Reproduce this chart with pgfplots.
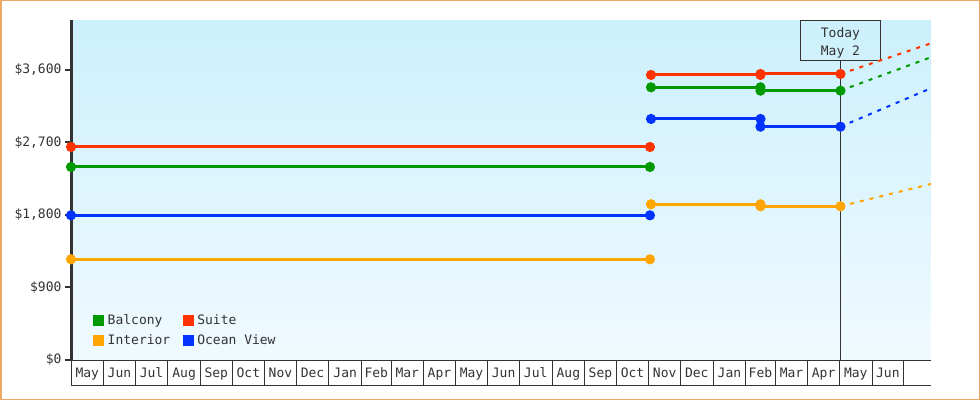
\documentclass[border=0pt]{standalone}
\usepackage{fontspec}
\usepackage{pgfplots}
\pgfplotsset{compat=1.18}
\setmainfont{DejaVu Sans Mono}

\definecolor{cGreen}{RGB}{0,153,0}
\definecolor{cRed}{RGB}{255,51,0}
\definecolor{cOrange}{RGB}{255,165,0}
\definecolor{cBlue}{RGB}{0,51,255}
\definecolor{bgTop}{RGB}{204,240,252}
\definecolor{bgBot}{RGB}{240,250,255}
\definecolor{frame}{RGB}{235,170,100}
\definecolor{axisgray}{RGB}{51,51,51}

\begin{document}
\begin{tikzpicture}[x=1pt,y=1pt]
\useasboundingbox (0,0) rectangle (980,400);
\draw[line width=1.5pt, frame] (0.75,0.75) rectangle (979.25,399.25);
\begin{axis}[
    at={(71pt,40pt)}, anchor=south west,
    width=860pt, height=340pt, scale only axis,
    xmin=0, xmax=817, ymin=0, ymax=4220,
    clip=false,
    axis x line*=bottom, axis y line*=left,
    x axis line style={-, line width=1pt, color=axisgray},
    y axis line style={-, line width=3pt, color=axisgray},
    axis background/.style={top color=bgTop, bottom color=bgBot},
    tick align=outside,
    major tick length=6pt,
    % month cells: ticks on month starts (day 0 = May 1)
    xtick={0,31,61,92,123,153,184,214,245,276,304,335,365,396,426,457,488,518,549,579,610,641,669,700,730,761,791},
    xticklabels={May,Jun,Jul,Aug,Sep,Oct,Nov,Dec,Jan,Feb,Mar,Apr,May,Jun,Jul,Aug,Sep,Oct,Nov,Dec,Jan,Feb,Mar,Apr,May,Jun},
    x tick label as interval,
    x tick style={line width=1pt, color=axisgray, /pgfplots/major tick length=25pt},
    xticklabel style={anchor=base, yshift=-11pt},
    ytick={0,900,1800,2700,3600},
    yticklabels={{\$0},{\$900},{\$1,800},{\$2,700},{\$3,600}},
    y tick style={line width=2pt, color=axisgray},
    ticklabel style={font=\fontsize{13}{13}\selectfont, text=axisgray},
    legend columns=2,
    legend cell align=left,
    legend style={at={(rel axis cs:0,0)}, anchor=south west, xshift=19pt, yshift=10pt,
        draw=none, fill=none, font=\fontsize{13}{13}\selectfont, text=axisgray,
        /tikz/every odd column/.append style={column sep=2pt},
        /tikz/every even column/.append style={column sep=11pt},
        row sep=6pt, nodes={inner sep=1.5pt}},
    legend image code/.code={\fill[#1] (0pt,-5.5pt) rectangle (11pt,5.5pt);},
]
\addlegendimage{fill=cGreen, draw=none}
\addlegendentry{Balcony}
\addlegendimage{fill=cRed, draw=none}
\addlegendentry{Suite}
\addlegendimage{fill=cOrange, draw=none}
\addlegendentry{Interior}
\addlegendimage{fill=cBlue, draw=none}
\addlegendentry{Ocean View}

% today marker
\node[draw=axisgray, line width=1pt, minimum width=80pt, minimum height=40pt,
      inner sep=0pt, anchor=north] (today) at (axis cs:731,4220) {};
\node[align=center, inner sep=0pt, text=axisgray, font=\fontsize{13}{18}\selectfont,
      yshift=-2pt] at (today.center) {Today\\May 2};
\draw[axisgray, line width=1pt] (today.south) -- (axis cs:731,0);

% projections
\addplot[forget plot, cRed, line width=2pt, dash pattern=on 4pt off 6pt] coordinates {(731,3550) (817,3931)};
\addplot[forget plot, cGreen, line width=2pt, dash pattern=on 4pt off 6pt] coordinates {(731,3343) (817,3758)};
\addplot[forget plot, cBlue, line width=2pt, dash pattern=on 4pt off 6pt] coordinates {(731,2896) (817,3373)};
\addplot[forget plot, cOrange, line width=2pt, dash pattern=on 4pt off 6pt] coordinates {(731,1908) (817,2185)};

% prices
\pgfplotsset{every axis plot/.append style={line width=3pt, mark=*, mark size=3.5pt, unbounded coords=jump}}
\addplot[forget plot, cOrange] coordinates {(0,1250) (550,1250) (551,nan) (551,1933) (655,1933) (655,nan) (655,1908) (731,1908)};
\addplot[forget plot, cBlue] coordinates {(0,1796) (550,1796) (551,nan) (551,2992) (655,2992) (655,nan) (655,2896) (731,2896)};
\addplot[forget plot, cGreen] coordinates {(0,2396) (550,2396) (551,nan) (551,3385) (655,3385) (655,nan) (655,3343) (731,3343)};
\addplot[forget plot, cRed] coordinates {(0,2644) (550,2644) (551,nan) (551,3538) (655,3538) (655,nan) (655,3550) (731,3550)};
\end{axis}
\draw[axisgray, line width=1pt] (71,15) -- (931,15);
\end{tikzpicture}
\end{document}
